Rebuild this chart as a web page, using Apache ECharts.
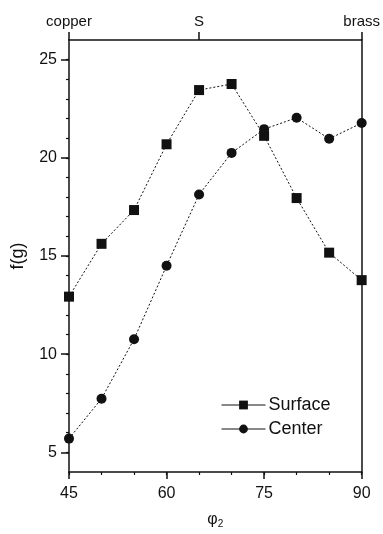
<!DOCTYPE html>
<html>
<head>
<meta charset="utf-8">
<script src="https://cdn.jsdelivr.net/npm/echarts@6/dist/echarts.min.js"></script>
<style>
  html, body { margin: 0; padding: 0; background: #fff; }
  #chart { width: 383px; height: 534px; }
</style>
</head>
<body>
<div id="chart"></div>
<script>
// phi_2 angle positions (degrees)
const phi2 = [45, 50, 55, 60, 65, 70, 75, 80, 85, 90];
// f(g) values for the two measurement locations
const surface = [12.93, 15.62, 17.34, 20.69, 23.45, 23.76, 21.12, 17.95, 15.17, 13.77];
const center = [5.70, 7.73, 10.76, 14.50, 18.13, 20.25, 21.46, 22.04, 20.97, 21.77];
// axis ticks
const yMajor = [5, 10, 15, 20, 25];
const yMinor = [5, 6, 7, 8, 9, 10, 11, 12, 13, 14, 15, 16, 17, 18, 19, 20, 21, 22, 23, 24, 25];
const xMajor = [45, 60, 75, 90];
const xMinor = [45, 50, 55, 60, 65, 70, 75, 80, 85, 90];
// texture components marked along the top edge
const topPositions = [45, 65, 90];
const topNames = ['copper', 'S', 'brass'];

const FONT = 'Liberation Sans, Arial, sans-serif';
const INK = '#111';

const chart = echarts.init(document.getElementById('chart'), null, { renderer: 'canvas' });

const axisLine = { show: true, lineStyle: { color: INK, width: 1.5 } };

chart.setOption({
  animation: false,
  backgroundColor: '#fff',
  grid: { left: 69, right: 21, top: 40, bottom: 55, containLabel: false },
  legend: {
    data: ['Surface', 'Center'],
    orient: 'vertical',
    left: 216,
    top: 391,
    itemWidth: 44,
    itemHeight: 11,
    itemGap: 6,
    textStyle: { fontFamily: FONT, fontSize: 18, color: INK, padding: [0, 0, 0, -2] },
    lineStyle: { type: 'solid', width: 1 }
  },
  xAxis: [
    {
      type: 'value', position: 'bottom', min: 45, max: 90,
      name: '{a|φ}{b|2}', nameLocation: 'middle', nameGap: 39,
      nameTextStyle: {
        rich: {
          a: { fontFamily: FONT, fontSize: 16, color: INK },
          b: { fontFamily: FONT, fontSize: 10, color: INK, verticalAlign: 'bottom', padding: [8, 0, 0, 0] }
        }
      },
      axisLine: axisLine,
      axisTick: { show: true, inside: false, length: 7, customValues: xMajor, lineStyle: { color: INK, width: 1.5 } },
      axisLabel: { show: true, customValues: xMajor, margin: 14, fontFamily: FONT, fontSize: 16, color: INK },
      splitLine: { show: false }
    },
    {
      type: 'value', position: 'bottom', min: 45, max: 90,
      axisLine: { show: false },
      axisTick: { show: true, inside: false, length: 3, customValues: xMinor, lineStyle: { color: INK, width: 1.2 } },
      axisLabel: { show: false },
      splitLine: { show: false }
    },
    {
      type: 'value', position: 'top', min: 45, max: 90,
      axisLine: axisLine,
      axisTick: { show: true, inside: false, length: 8, customValues: topPositions, lineStyle: { color: INK, width: 1.5 } },
      axisLabel: {
        show: true, customValues: topPositions, margin: 11,
        fontFamily: FONT, fontSize: 15, color: INK,
        formatter: function (v) { return topNames[topPositions.indexOf(v)]; }
      },
      splitLine: { show: false }
    }
  ],
  yAxis: [
    {
      type: 'value', position: 'left', min: 4, max: 26,
      name: 'f(g)', nameLocation: 'middle', nameGap: 42, nameRotate: 90,
      nameTextStyle: { fontFamily: FONT, fontSize: 18, color: INK },
      axisLine: axisLine,
      axisTick: { show: true, inside: false, length: 8, customValues: yMajor, lineStyle: { color: INK, width: 1.5 } },
      axisLabel: { show: true, customValues: yMajor, margin: 12, fontFamily: FONT, fontSize: 16, color: INK },
      splitLine: { show: false }
    },
    {
      type: 'value', position: 'left', min: 4, max: 26,
      axisLine: { show: false },
      axisTick: { show: true, inside: false, length: 3, customValues: yMinor, lineStyle: { color: INK, width: 1.2 } },
      axisLabel: { show: false },
      splitLine: { show: false }
    },
    {
      type: 'value', position: 'right', min: 4, max: 26,
      axisLine: axisLine,
      axisTick: { show: false },
      axisLabel: { show: false },
      splitLine: { show: false }
    }
  ],
  series: [
    {
      name: 'Surface', type: 'line', xAxisIndex: 0, yAxisIndex: 0,
      data: phi2.map((x, i) => [x, surface[i]]),
      symbol: 'rect', symbolSize: 10,
      itemStyle: { color: INK },
      lineStyle: { color: INK, width: 1, type: [2, 2] }
    },
    {
      name: 'Center', type: 'line', xAxisIndex: 0, yAxisIndex: 0,
      data: phi2.map((x, i) => [x, center[i]]),
      symbol: 'circle', symbolSize: 10,
      itemStyle: { color: INK },
      lineStyle: { color: INK, width: 1, type: [2, 2] }
    }
  ]
});
</script>
</body>
</html>
